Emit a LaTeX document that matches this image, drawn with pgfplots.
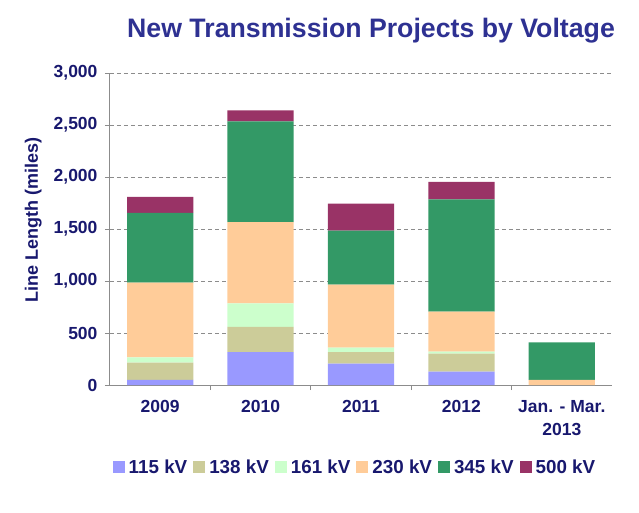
\documentclass[border=0pt]{standalone}
\usepackage{pgfplots}
\pgfplotsset{compat=1.18}
\usepackage{fontspec}
\setmainfont{Liberation Sans}
\definecolor{kvA}{RGB}{153,153,255}
\definecolor{kvB}{RGB}{204,204,153}
\definecolor{kvC}{RGB}{204,255,204}
\definecolor{kvD}{RGB}{255,204,153}
\definecolor{kvE}{RGB}{51,153,102}
\definecolor{kvF}{RGB}{153,51,102}
\definecolor{navy}{RGB}{24,24,110}
\definecolor{titleblue}{RGB}{46,49,146}
\pgfplotsset{sqlegend/.style={legend image code/.code={\fill[##1] (0pt,-6pt) rectangle (12pt,6pt);}}}
\begin{document}
\begin{tikzpicture}[x=1pt,y=1pt]
\useasboundingbox (-110,-127) rectangle (529,385);
\begin{axis}[
  at={(0,0)}, anchor=south west,
  scale only axis, width=502pt, height=312pt,
  ybar stacked, bar width=0.66,
  xmin=-0.5, xmax=4.5, ymin=0, ymax=3000,
  xtick={0.5,1.5,2.5,3.5}, xticklabels={},
  extra x ticks={0,1,2,3,4},
  extra x tick labels={2009,2010,2011,2012,{Jan. - Mar.\\2013}},
  extra x tick style={major tick length=0pt, grid=none,
    xticklabel style={align=center, font=\fontsize{17.5}{23}\selectfont\bfseries, text=navy, yshift=-12pt}},
  ytick={0,500,...,3000},
  yticklabel style={font=\fontsize{17.5}{20}\selectfont\bfseries, text=navy, xshift=-4pt},
  /pgf/number format/assume math mode=true,
  /pgf/number format/1000 sep={,},
  scaled y ticks=false,
  axis x line*=bottom, axis y line*=left,
  axis line style={draw=gray!90, line width=1pt, -},
  tick style={draw=gray!90, line width=0.8pt},
  major tick length=5pt,
  tick align=outside,
  ymajorgrids, grid style={dash pattern=on 4pt off 3pt, gray!90, line width=0.8pt},
  title={New Transmission Projects by Voltage},
  title style={at={(axis description cs:0.52,1)}, anchor=base, yshift=30pt,
    font=\fontsize{26.7}{30}\selectfont\bfseries, text=titleblue},
  ylabel={Line Length (miles)},
  ylabel style={at={(axis description cs:-0.153,0.53)}, anchor=center,
    font=\fontsize{18}{20}\selectfont\bfseries, text=navy},
  legend columns=6,
  legend style={at={(axis description cs:0.488,-0.263)}, anchor=center, draw=none,
    font=\fontsize{18.8}{20}\selectfont\bfseries, text=navy,
    /tikz/every odd column/.append style={column sep=2pt},
    /tikz/every even column/.append style={column sep=4pt}},
]
\addplot[fill=kvA, draw=none, sqlegend]
  coordinates {(0,50) (1,315) (2,205) (3,128) (4,0)};
\addplot[fill=kvB, draw=none, sqlegend]
  coordinates {(0,165) (1,245) (2,110) (3,173) (4,0)};
\addplot[fill=kvC, draw=none, sqlegend]
  coordinates {(0,50) (1,225) (2,45) (3,20) (4,0)};
\addplot[fill=kvD, draw=none, sqlegend]
  coordinates {(0,720) (1,780) (2,605) (3,385) (4,50)};
\addplot[fill=kvE, draw=none, sqlegend]
  coordinates {(0,670) (1,970) (2,520) (3,1080) (4,360)};
\addplot[fill=kvF, draw=none, sqlegend]
  coordinates {(0,155) (1,105) (2,260) (3,167) (4,0)};
\legend{115 kV,138 kV,161 kV,230 kV,345 kV,500 kV}
\end{axis}
\end{tikzpicture}
\end{document}
